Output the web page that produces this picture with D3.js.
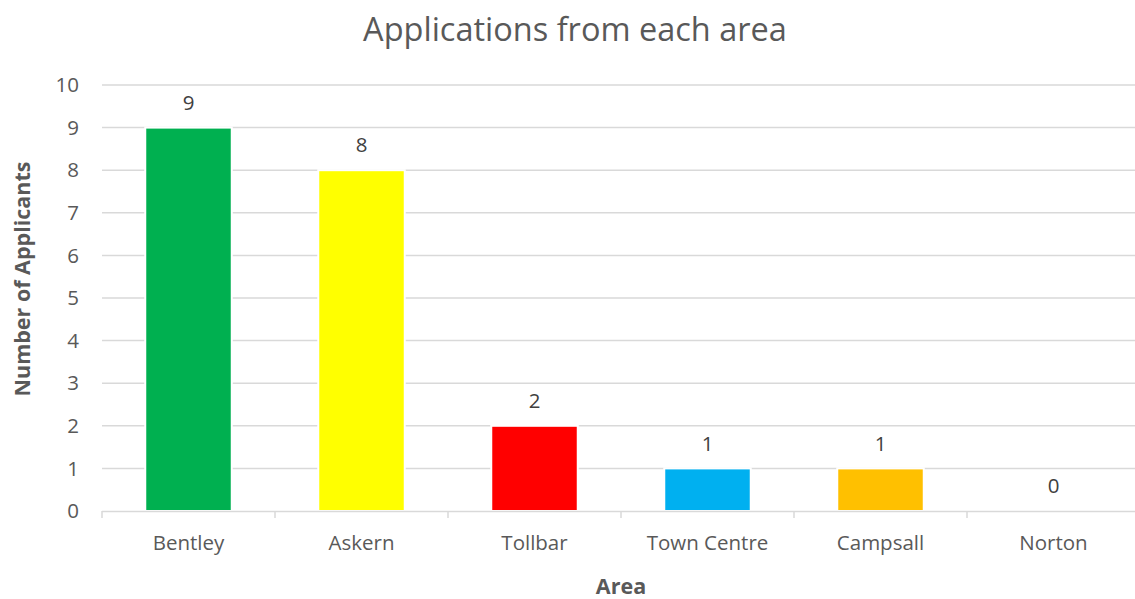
<!DOCTYPE html>
<html><head><meta charset="utf-8">
<script src="https://cdn.jsdelivr.net/npm/d3@7"></script>
<style>body{margin:0;background:#fff}svg{display:block}text{font-family:"Open Sans",Lato,sans-serif}</style>
</head><body>
<svg id="c" width="1135" height="599"></svg>
<script>
const categories = ["Bentley","Askern","Tollbar","Town Centre","Campsall","Norton"];
const values = [9,8,2,1,1,0];
const barColors = ["#00b050","#ffff00","#ff0000","#00b0f0","#ffc000","#7f7f7f"];
const yTicks = [0,1,2,3,4,5,6,7,8,9,10];
const title = "Applications from each area";
const xTitle = "Area";
const yTitle = "Number of Applicants";

const svg = d3.select("#c");
const x = d3.scaleBand().domain(categories).range([102,1140]).paddingInner(0.5).paddingOuter(0.25);
const y = d3.scaleLinear().domain([0,10]).range([511,85]);

// gridlines
svg.append("g").selectAll("line").data(yTicks.filter(d=>d>0)).join("line")
  .attr("x1",102).attr("x2",1140).attr("y1",d=>y(d)).attr("y2",d=>y(d))
  .attr("stroke","#d9d9d9").attr("stroke-width",1.5);

// y labels
svg.append("g").selectAll("text").data(yTicks).join("text")
  .attr("x",79).attr("y",d=>y(d)).attr("dy","0.35em").attr("text-anchor","end")
  .attr("font-size",20.5).attr("fill","#595959").text(d=>d);

// bars
svg.append("g").selectAll("rect").data(categories).join("rect")
  .attr("x",d=>x(d)).attr("width",x.bandwidth())
  .attr("y",(d,i)=>y(values[i])).attr("height",(d,i)=>y(0)-y(values[i]))
  .attr("fill",(d,i)=>barColors[i]).attr("stroke","#fff").attr("stroke-width",2);

// x axis line and ticks
const step = x.step();
svg.append("line").attr("x1",102).attr("x2",1140).attr("y1",511.5).attr("y2",511.5)
  .attr("stroke","#d9d9d9").attr("stroke-width",1.5);
svg.append("g").selectAll("line").data(d3.range(categories.length+1)).join("line")
  .attr("x1",i=>102+i*step).attr("x2",i=>102+i*step).attr("y1",511).attr("y2",518)
  .attr("stroke","#d9d9d9").attr("stroke-width",1.5);

// x labels
svg.append("g").selectAll("text").data(categories).join("text")
  .attr("x",d=>x(d)+x.bandwidth()/2).attr("y",543).attr("dy","0.35em").attr("text-anchor","middle")
  .attr("font-size",20.5).attr("fill","#595959").text(d=>d);

// value labels
svg.append("g").selectAll("text").data(categories).join("text")
  .attr("x",d=>x(d)+x.bandwidth()/2).attr("y",(d,i)=>y(values[i])-25).attr("dy","0.35em").attr("text-anchor","middle")
  .attr("font-size",20.5).attr("fill","#404040").text((d,i)=>values[i]);

// titles
svg.append("text").attr("x",575).attr("y",30).attr("dy","0.35em").attr("text-anchor","middle")
  .attr("font-size",32.5).attr("fill","#595959").text(title);
svg.append("text").attr("x",621).attr("y",586).attr("dy","0.35em").attr("text-anchor","middle")
  .attr("font-size",21.5).attr("font-weight","bold").attr("fill","#595959").text(xTitle);
svg.append("text").attr("transform","translate(22,279) rotate(-90)").attr("dy","0.35em").attr("text-anchor","middle")
  .attr("font-size",21.5).attr("font-weight","bold").attr("fill","#595959").text(yTitle);
</script>
</body></html>
